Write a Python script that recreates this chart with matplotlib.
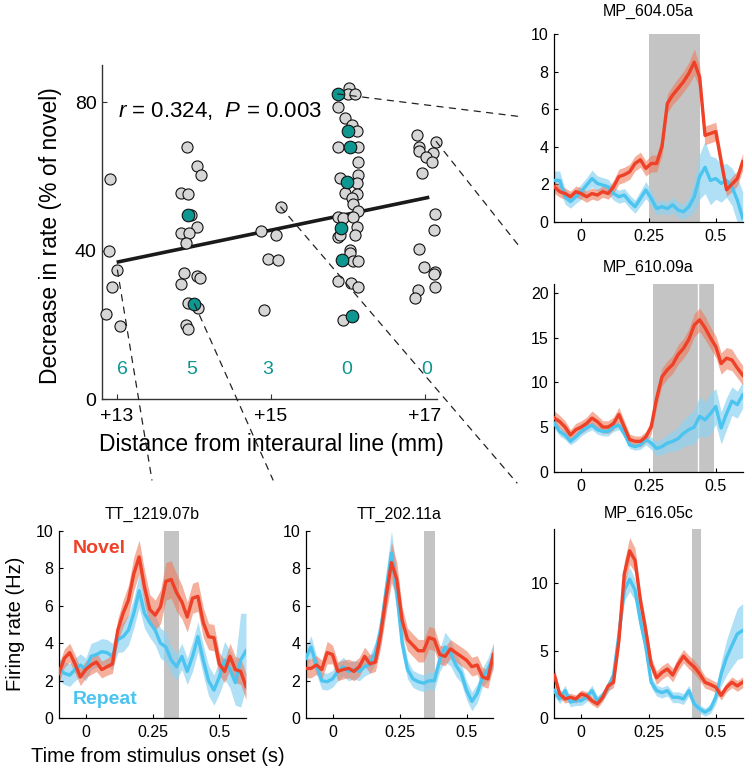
import numpy as np
import matplotlib
matplotlib.use('Agg')
import matplotlib.pyplot as plt
from matplotlib.patches import ConnectionPatch

plt.rcParams['font.family'] = ['Liberation Sans', 'DejaVu Sans']
plt.rcParams['mathtext.fontset'] = 'custom'
plt.rcParams['mathtext.rm'] = 'Liberation Sans'
plt.rcParams['mathtext.it'] = 'Liberation Sans:italic'

# ---------------- data: scatter ----------------
gray_x = [12.92, 12.90, 13.01, 12.94, 12.86, 13.05,
          13.91, 14.05, 14.10, 13.84, 13.93, 13.97, 14.05, 13.84, 13.94, 13.90, 13.87, 14.04, 14.08,
          13.84, 13.93, 14.06, 13.90, 13.93,
          15.13, 14.88, 15.07, 14.96, 15.10, 14.92,
          16.02, 16.00, 16.10, 15.87, 15.97, 16.05, 16.12, 15.88, 16.13, 16.14, 16.14, 15.90, 16.12,
          15.97, 16.12, 16.05, 16.07, 16.14, 15.88, 15.94, 16.07, 16.12, 15.87, 15.90, 16.09, 16.03,
          16.03, 16.07, 16.14, 15.87, 16.04, 16.14, 15.94,
          16.90, 17.15, 16.92, 16.92, 17.11, 17.02, 17.09, 16.97, 17.13, 17.12, 16.92, 16.99, 17.13,
          17.12, 16.91, 17.13, 16.87]
gray_y = [59.3, 40.0, 34.8, 30.2, 22.9, 19.6,
          68.0, 62.7, 60.3, 55.5, 55.3, 49.5, 46.5, 44.7, 44.9, 42.0, 33.9, 33.3, 32.7,
          31.1, 25.9, 24.5, 20.0, 18.9,
          51.8, 45.3, 44.2, 37.7, 37.4, 24.1,
          83.8, 82.2, 82.2, 78.6, 75.7, 73.9, 72.1, 67.9, 67.9, 64.0, 60.4, 59.5, 58.2,
          55.5, 55.3, 54.1, 52.6, 50.8, 49.2, 48.7, 49.2, 46.3, 43.8, 44.3, 44.1, 40.2,
          39.3, 37.3, 37.3, 31.9, 31.2, 30.3, 21.4,
          71.1, 69.4, 68.0, 66.9, 66.4, 65.2, 64.0, 61.0, 49.8, 45.6, 40.4, 35.6, 34.4,
          33.7, 29.3, 30.2, 27.2]
teal_x = [13.93, 14.01, 15.87, 16.00, 16.03, 15.99, 15.91, 15.92, 16.05]
teal_y = [49.6, 25.7, 82.2, 72.3, 67.9, 58.4, 46.1, 37.5, 22.3]

fit_x = [13.0, 17.06]
fit_y = [36.9, 54.4]

count_x = [13.08, 13.98, 14.96, 15.99, 17.03]
count_labels = ['6', '5', '3', '0', '0']
count_y = 8.1

main_xticks = [13, 15, 17]
main_xticklabels = ['+13', '+15', '+17']
main_yticks = [0, 40, 80]

# ---------------- data: firing rate traces ----------------
t = np.linspace(-0.1, 0.6, 36)

A_novel = [1.86, 1.6, 1.5, 1.33, 1.6, 1.5, 1.33, 1.5, 1.42, 1.6, 1.5, 1.86, 2.4, 2.5, 2.66, 3.1, 3.3, 2.84,
           3.1, 3.1, 4.0, 6.3, 6.75, 7.1, 7.46, 7.9, 8.5, 7.7, 4.6, 4.7, 4.8, 3.2, 1.7, 2.0, 2.3, 3.2]
A_novel_sem = [0.35, 0.3, 0.3, 0.3, 0.3, 0.3, 0.3, 0.3, 0.3, 0.3, 0.3, 0.35, 0.4, 0.4, 0.4, 0.4, 0.4, 0.4,
               0.45, 0.45, 0.5, 0.5, 0.5, 0.55, 0.55, 0.6, 0.7, 0.6, 0.5, 0.5, 0.5, 0.45, 0.35, 0.4, 0.4, 0.45]
A_repeat = [2.2, 2.2, 1.33, 1.07, 1.33, 1.6, 1.95, 2.3, 2.04, 1.95, 1.86, 1.5, 1.33, 1.42, 1.07, 0.8, 1.24, 1.69,
            1.24, 0.7, 0.8, 0.7, 0.9, 0.62, 0.53, 0.8, 1.33, 2.4, 2.9, 2.2, 2.3, 2.04, 2.2, 1.86, 1.15, 0.2]
A_repeat_sem = [0.5, 0.5, 0.4, 0.35, 0.35, 0.4, 0.4, 0.45, 0.4, 0.4, 0.4, 0.35, 0.35, 0.35, 0.35, 0.35, 0.4, 0.45,
                0.4, 0.35, 0.35, 0.35, 0.4, 0.4, 0.4, 0.5, 0.8, 1.2, 1.4, 1.3, 1.1, 1.0, 0.9, 1.0, 1.2, 1.4]

B_novel = [6.0, 5.6, 5.0, 4.1, 4.7, 5.0, 5.4, 6.0, 5.6, 5.0, 5.0, 5.4, 6.4, 5.0, 3.6, 3.4, 3.4, 3.9,
           5.0, 8.2, 10.6, 11.4, 12.0, 13.1, 13.8, 14.8, 16.4, 17.0, 16.1, 15.0, 14.0, 12.1, 12.7, 12.5, 11.6, 10.8]
B_novel_sem = [0.8, 0.7, 0.7, 0.6, 0.7, 0.7, 0.7, 0.8, 0.7, 0.7, 0.7, 0.7, 0.8, 0.7, 0.6, 0.6, 0.6, 0.6,
               0.8, 1.0, 1.0, 1.0, 1.0, 1.1, 1.1, 1.2, 1.3, 1.3, 1.3, 1.2, 1.2, 1.2, 1.2, 1.2, 1.1, 1.1]
B_repeat = [5.4, 4.5, 4.1, 3.4, 3.9, 4.5, 4.9, 5.2, 4.7, 4.5, 4.5, 5.0, 5.2, 4.3, 3.0, 2.8, 3.0, 3.6,
            3.2, 2.6, 2.8, 3.2, 3.4, 3.7, 4.3, 4.7, 5.0, 6.2, 5.8, 6.5, 7.3, 4.9, 6.5, 7.9, 7.5, 8.6]
B_repeat_sem = [0.5, 0.5, 0.5, 0.4, 0.5, 0.5, 0.5, 0.5, 0.5, 0.5, 0.5, 0.5, 0.5, 0.5, 0.4, 0.4, 0.5, 0.6,
                0.7, 0.8, 0.9, 1.0, 1.1, 1.3, 1.5, 1.7, 1.9, 2.2, 2.0, 2.3, 2.0, 1.8, 1.8, 1.6, 1.5, 1.5]

E_novel = [3.2, 1.8, 1.43, 1.56, 1.43, 1.8, 1.68, 1.3, 1.06, 1.56, 2.4, 2.67, 5.75, 10.7, 12.4, 11.7, 8.7, 6.5,
           4.0, 3.0, 3.4, 3.65, 3.2, 4.0, 4.6, 4.15, 3.8, 3.3, 2.67, 2.5, 2.3, 1.7, 2.3, 2.67, 2.4, 2.67]
E_novel_sem = [0.5, 0.3, 0.3, 0.3, 0.3, 0.3, 0.3, 0.3, 0.3, 0.3, 0.35, 0.4, 0.6, 0.9, 1.0, 0.9, 0.7, 0.6,
               0.5, 0.5, 0.5, 0.5, 0.5, 0.5, 0.5, 0.5, 0.5, 0.5, 0.45, 0.4, 0.4, 0.35, 0.35, 0.4, 0.4, 0.4]
E_repeat = [2.05, 1.43, 2.05, 1.2, 1.3, 1.3, 1.56, 2.05, 1.3, 1.68, 2.3, 3.2, 6.2, 9.5, 10.3, 9.5, 7.2, 5.3,
            2.67, 2.05, 1.9, 2.05, 1.56, 1.56, 1.43, 2.05, 1.06, 0.7, 0.45, 0.7, 1.56, 3.3, 4.5, 5.4, 6.25, 6.5]
E_repeat_sem = [0.4, 0.35, 0.4, 0.35, 0.35, 0.35, 0.35, 0.4, 0.35, 0.35, 0.4, 0.5, 0.7, 0.8, 0.9, 0.8, 0.7, 0.6,
                0.4, 0.4, 0.4, 0.4, 0.4, 0.4, 0.4, 0.4, 0.35, 0.3, 0.3, 0.35, 0.5, 0.9, 1.3, 1.6, 1.9, 2.0]

C_novel = [2.4, 3.2, 3.5, 2.9, 2.2, 2.6, 2.84, 3.0, 2.6, 2.75, 2.9, 4.7, 5.6, 6.3, 7.7, 8.6, 7.0, 5.8,
           5.5, 5.95, 7.3, 7.4, 6.7, 6.2, 5.4, 6.4, 6.5, 5.1, 4.35, 4.3, 2.9, 2.5, 3.3, 2.6, 2.5, 1.7]
C_novel_sem = [0.5, 0.5, 0.5, 0.5, 0.45, 0.45, 0.5, 0.5, 0.45, 0.45, 0.5, 0.6, 0.7, 0.8, 0.9, 0.9, 0.9, 0.8,
               0.8, 0.9, 1.0, 1.0, 1.0, 0.9, 0.8, 0.8, 0.8, 0.8, 0.7, 0.7, 0.6, 0.6, 0.7, 0.7, 0.7, 0.7]
C_repeat = [2.6, 2.4, 2.3, 2.6, 2.84, 2.6, 3.3, 3.4, 3.55, 3.5, 3.3, 4.2, 4.35, 4.7, 5.6, 6.8, 5.6, 5.1,
            4.7, 4.0, 3.8, 3.1, 2.75, 3.3, 2.5, 3.3, 4.35, 3.1, 2.0, 1.5, 2.2, 3.1, 2.6, 1.9, 3.1, 3.6]
C_repeat_sem = [0.6, 0.6, 0.6, 0.6, 0.6, 0.6, 0.7, 0.7, 0.7, 0.7, 0.7, 0.7, 0.8, 0.8, 0.8, 0.9, 0.8, 0.8,
                0.8, 0.8, 0.8, 0.7, 0.7, 0.7, 0.7, 0.8, 0.8, 0.8, 0.8, 0.8, 0.9, 1.0, 1.0, 1.2, 2.5, 2.0]

D_novel = [2.66, 2.66, 2.84, 2.6, 3.5, 3.4, 2.5, 2.6, 2.66, 2.5, 2.75, 3.3, 2.9, 3.0, 4.5, 6.5, 8.3, 7.4,
           5.2, 4.2, 3.9, 3.6, 3.6, 4.3, 4.2, 3.4, 3.3, 3.7, 3.5, 3.3, 3.1, 2.75, 2.84, 2.2, 2.1, 3.4]
D_novel_sem = [0.5, 0.5, 0.5, 0.5, 0.6, 0.5, 0.5, 0.5, 0.5, 0.5, 0.5, 0.5, 0.5, 0.5, 0.7, 0.9, 1.1, 0.9,
               0.7, 0.6, 0.6, 0.6, 0.6, 0.6, 0.6, 0.5, 0.5, 0.5, 0.5, 0.5, 0.5, 0.5, 0.5, 0.5, 0.5, 0.6]
D_repeat = [3.2, 3.8, 2.84, 2.0, 1.95, 2.1, 2.5, 2.75, 2.5, 2.6, 2.5, 2.75, 2.9, 3.5, 4.7, 6.8, 8.8, 6.7,
            4.0, 2.6, 2.1, 1.95, 1.87, 2.0, 2.0, 3.1, 3.8, 3.5, 2.84, 2.4, 1.5, 0.9, 1.33, 2.2, 2.6, 3.3]
D_repeat_sem = [0.6, 0.6, 0.5, 0.45, 0.45, 0.45, 0.5, 0.5, 0.5, 0.5, 0.5, 0.5, 0.5, 0.6, 0.8, 1.0, 1.2, 1.0,
                0.6, 0.5, 0.45, 0.45, 0.45, 0.45, 0.5, 0.6, 0.8, 0.7, 0.6, 0.5, 0.5, 0.5, 0.5, 0.5, 0.6, 0.7]

panel_titles = {'A': 'MP_604.05a', 'B': 'MP_610.09a', 'E': 'MP_616.05c',
                'C': 'TT_1219.07b', 'D': 'TT_202.11a'}
shades = {'A': (0.25, 0.44), 'B': (0.265, 0.493), 'E': (0.412, 0.444),
          'C': (0.292, 0.349), 'D': (0.34, 0.381)}
B_divider = 0.433
ylims = {'A': 10, 'B': 21, 'E': 14, 'C': 10, 'D': 10}
yticks = {'A': [0, 2, 4, 6, 8, 10], 'B': [0, 5, 10, 15, 20], 'E': [0, 5, 10],
          'C': [0, 2, 4, 6, 8, 10], 'D': [0, 2, 4, 6, 8, 10]}
xticks_small = [0, 0.25, 0.5]
xticklabels_small = ['0', '0.25', '0.5']

# ---------------- style ----------------
RED = '#EE4127'
RED_BAND = '#EE7A5C'
BLUE = '#4CC4F0'
BLUE_BAND = '#8FD3F3'
TEAL = '#0E9690'
PGRAY = '#D6D6D6'
SHADE = '#C4C4C4'

W, H = 752, 775
fig = plt.figure(figsize=(W / 100, H / 100), dpi=100)


def px_axes(l, t_, r, b):
    return fig.add_axes([l / W, 1 - b / H, (r - l) / W, (b - t_) / H])


ax_main = px_axes(102, 65, 437, 399.3)
axs = {
    'A': px_axes(554.3, 34, 742.7, 221.7),
    'B': px_axes(554.3, 284, 742.7, 471.7),
    'E': px_axes(554.3, 529.3, 742.7, 718.3),
    'C': px_axes(59, 530.7, 246, 718.3),
    'D': px_axes(305.7, 530.7, 493.3, 718.3),
}
title_pads = {'A': 13, 'B': 9, 'E': 8, 'C': 8.5, 'D': 8.5}
traces = {
    'A': (A_novel, A_novel_sem, A_repeat, A_repeat_sem),
    'B': (B_novel, B_novel_sem, B_repeat, B_repeat_sem),
    'E': (E_novel, E_novel_sem, E_repeat, E_repeat_sem),
    'C': (C_novel, C_novel_sem, C_repeat, C_repeat_sem),
    'D': (D_novel, D_novel_sem, D_repeat, D_repeat_sem),
}

for key, ax in axs.items():
    nov, nsem, rep, rsem = [np.array(v) for v in traces[key]]
    ax.axvspan(*shades[key], color=SHADE, lw=0, zorder=0)
    if key == 'B':
        ax.axvline(B_divider, color='white', lw=1.0, zorder=0.5)
    ax.fill_between(t, rep - rsem, rep + rsem, color=BLUE_BAND, alpha=0.7, lw=0, zorder=1)
    ax.fill_between(t, nov - nsem, nov + nsem, color=RED_BAND, alpha=0.6, lw=0, zorder=2)
    ax.plot(t, rep, color=BLUE, lw=2.4, zorder=3)
    ax.plot(t, nov, color=RED, lw=2.4, zorder=4)
    ax.set_xlim(-0.1, 0.6)
    ax.set_ylim(0, ylims[key])
    ax.set_yticks(yticks[key])
    ax.set_xticks(xticks_small)
    ax.set_xticklabels(xticklabels_small)
    for s in ['top', 'right']:
        ax.spines[s].set_visible(False)
    for s in ['left', 'bottom']:
        ax.spines[s].set_linewidth(0.9)
    ax.tick_params(direction='in', length=3, width=0.8, labelsize=11.5)
    ax.tick_params(axis='x', pad=5)
    ax.tick_params(axis='y', pad=4)
    ax.set_title(panel_titles[key], fontsize=11.5, pad=title_pads[key])

axC = axs['C']
axC.text(0.075, 0.905, 'Novel', transform=axC.transAxes, color=RED, fontsize=14,
         fontweight='bold', va='center', ha='left')
axC.text(0.075, 0.098, 'Repeat', transform=axC.transAxes, color=BLUE, fontsize=14,
         fontweight='bold', va='center', ha='left')

# ---------------- main scatter ----------------
ax = ax_main
ax.plot(fit_x, fit_y, color='#1a1a1a', lw=2.6, zorder=2, solid_capstyle='butt')
ax.scatter(gray_x, gray_y, s=64, facecolor=PGRAY, edgecolor='#111111', linewidth=0.8, zorder=3, clip_on=False)
ax.scatter(teal_x, teal_y, s=82, facecolor=TEAL, edgecolor='#111111', linewidth=0.8, zorder=4, clip_on=False)
for cx, cl in zip(count_x, count_labels):
    ax.text(cx, count_y, cl, color=TEAL, fontsize=14, ha='center', va='center')
ax.text(13.02, 77.5, r'$\it{r}$ = 0.324,  $\it{P}$ = 0.003', fontsize=16, ha='left', va='center')
ax.set_xlim(12.81, 17.16)
ax.set_ylim(0, 90)
ax.set_xticks(main_xticks)
ax.set_xticklabels(main_xticklabels)
ax.set_yticks(main_yticks)
for s in ['top', 'right']:
    ax.spines[s].set_visible(False)
for s in ['left', 'bottom']:
    ax.spines[s].set_linewidth(1.0)
    ax.spines[s].set_color('#333333')
ax.tick_params(direction='in', length=3.5, width=0.8, labelsize=14, color='#333333')
ax.tick_params(axis='x', pad=6)
ax.tick_params(axis='y', pad=4)

# axis labels
fig.text(51 / W, 1 - 235.5 / H, 'Decrease in rate (% of novel)', rotation=90, fontsize=16.5,
         ha='center', va='center')
fig.text(271 / W, 1 - 445 / H, 'Distance from interaural line (mm)', fontsize=16.5,
         ha='center', va='center')
fig.text(16 / W, 1 - 623.5 / H, 'Firing rate (Hz)', rotation=90, fontsize=14.5,
         ha='center', va='center')
fig.text(157.5 / W, 1 - 756 / H, 'Time from stimulus onset (s)', fontsize=14.5,
         ha='center', va='center')

# ---------------- dashed connectors ----------------
connectors = [
    ((15.87, 82.2), 'A', (-0.166, 0.558)),
    ((17.15, 69.4), 'A', (-0.183, -0.135)),
    ((15.13, 51.8), 'E', (-0.198, 1.245)),
    ((13.01, 34.8), 'C', (0.497, 1.27)),
    ((14.01, 25.7), 'D', (-0.174, 1.27)),
]
for (xa, key, xb) in connectors:
    cp = ConnectionPatch(xyA=xa, coordsA='data', axesA=ax_main,
                         xyB=xb, coordsB='axes fraction', axesB=axs[key],
                         color='#222222', lw=0.9, linestyle=(0, (5, 5)), zorder=10)
    fig.add_artist(cp)

fig.savefig('out.png', dpi=100)
